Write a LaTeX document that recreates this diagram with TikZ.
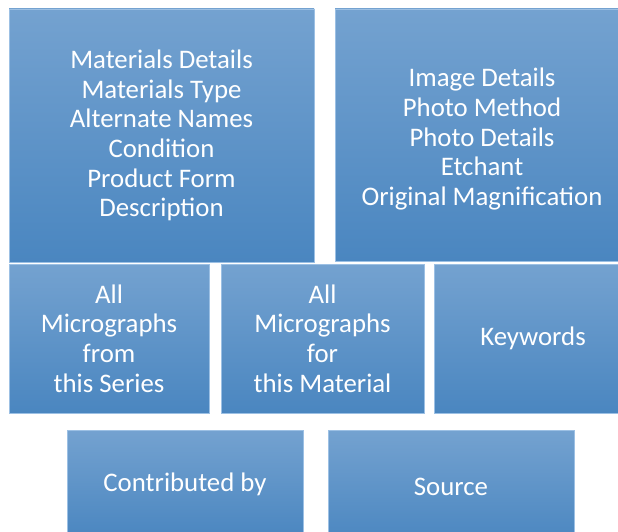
\documentclass[tikz,border=0pt]{standalone}
\usepackage{fontspec}
\setmainfont{Carlito}
\definecolor{boxtop}{HTML}{74A2D0}
\definecolor{boxbot}{HTML}{4A86C0}
\definecolor{boxline}{HTML}{9CC0E4}
\tikzset{
  panel/.style={rectangle, draw=boxline, line width=0.8bp, top color=boxtop, bottom color=boxbot,
    inner sep=0pt, outer sep=0pt, align=center, text=white,
    font=\fontsize{26.8bp}{29.6bp}\selectfont},
  paneltext/.style={align=center, text=white, inner sep=0pt,
    font=\fontsize{26.8bp}{29.6bp}\selectfont}
}
\newcommand{\panelbox}[6]{% name, x1, y1, x2, y2, text
  \node[panel, minimum width={(#4-#2)*1bp}, minimum height={(#5-#3)*1bp}]
    (#1) at ({(#2+#4)/2},{(#3+#5)/2}) {#6};}
\begin{document}
\begin{tikzpicture}[x=1bp,y=-1bp]
\useasboundingbox (0,0) rectangle (618,532);
\fill[white] (0,0) rectangle (618,532);
\panelbox{matdet}{9}{9}{314}{262}{Materials Details\\Materials Type\\Alternate Names\\Condition\\Product Form\\Description}
\panelbox{imgdet}{335}{9}{629}{261}{}
\node[paneltext] (imgdettext) at ([yshift=-4bp]imgdet.center) {Image Details\\Photo Method\\Photo Details\\Etchant\\Original Magnification};
\panelbox{series}{9}{264}{209}{413}{All\\Micrographs\\from\\this Series}
\panelbox{material}{221}{264}{424}{413}{All\\Micrographs\\for\\this Material}
\panelbox{keywords}{434}{264}{632}{413}{Keywords}
\panelbox{contrib}{67}{430}{303}{538}{Contributed by}
\panelbox{source}{328}{430}{574}{544}{Source}
\end{tikzpicture}
\end{document}
